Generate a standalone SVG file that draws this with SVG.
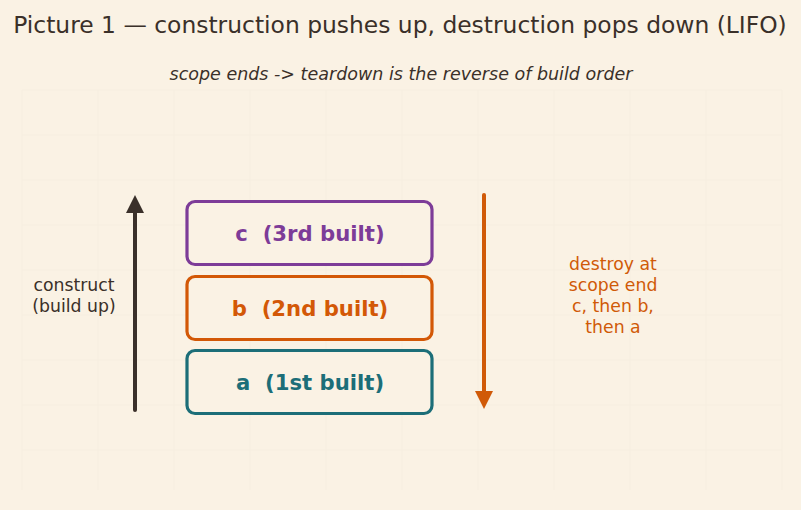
<svg xmlns="http://www.w3.org/2000/svg" width="801" height="510" viewBox="0 0 801 510">
<defs>
<style>
text{font-family:"DejaVu Sans","Liberation Sans",sans-serif;text-anchor:middle;white-space:pre}
.title{font-size:23.4px;fill:#3a3029}
.sub{font-size:17.5px;font-style:italic;fill:#3a3029}
.box{fill:#faf2e4;stroke-width:3.2}
.lbl{font-size:21.2px;font-weight:bold}
.side{font-size:17.3px}
.grid{stroke:#f4ecde;stroke-width:1;fill:none}
</style>
<marker id="ahDark" viewBox="0 0 10 10" refX="5" refY="5" markerWidth="4.5" markerHeight="4.5" orient="auto"><path d="M0,0L10,5L0,10z" fill="#3a302a"/></marker>
<marker id="ahOrange" viewBox="0 0 10 10" refX="5" refY="5" markerWidth="4.5" markerHeight="4.5" orient="auto"><path d="M0,0L10,5L0,10z" fill="#d05a08"/></marker>
</defs>
<rect width="801" height="510" fill="#faf2e4"/>
<g class="grid" opacity="0.5">
<path d="M22,90V490M98,90V490M174,90V490M250,90V490M326,90V490M402,90V490M478,90V490M554,90V490M630,90V490M706,90V490M782,90V490"/>
<path d="M22,90H782M22,135H782M22,180H782M22,225H782M22,270H782M22,315H782M22,360H782M22,405H782M22,450H782"/>
</g>
<text class="title" x="400" y="33">Picture 1 — construction pushes up, destruction pops down (LIFO)</text>
<text class="sub" x="401" y="80">scope ends -&gt; teardown is the reverse of build order</text>
<g id="connectors">
<line x1="135" y1="410" x2="135" y2="204" stroke="#3a302a" stroke-width="4" stroke-linecap="round" marker-end="url(#ahDark)"/>
<line x1="484" y1="195" x2="484" y2="400" stroke="#d05a08" stroke-width="4" stroke-linecap="round" marker-end="url(#ahOrange)"/>
</g>
<g id="node-c">
<rect class="box" x="187" y="201.5" width="245" height="63" rx="8" stroke="#7d3c98"/>
<text class="lbl" x="310" y="240.5" fill="#7d3c98">c  (3rd built)</text>
</g>
<g id="node-b">
<rect class="box" x="187" y="276.5" width="245" height="63" rx="8" stroke="#d35806"/>
<text class="lbl" x="310" y="315.5" fill="#d35806">b  (2nd built)</text>
</g>
<g id="node-a">
<rect class="box" x="187" y="350.5" width="245" height="63" rx="8" stroke="#1c6e78"/>
<text class="lbl" x="310" y="389.5" fill="#1c6e78">a  (1st built)</text>
</g>
<g id="label-construct">
<text class="side" x="74" y="291" fill="#3a3029">construct</text>
<text class="side" x="74" y="312" fill="#3a3029">(build up)</text>
</g>
<g id="label-destroy">
<text class="side" x="613" y="270" fill="#d05a08">destroy at</text>
<text class="side" x="613" y="291" fill="#d05a08">scope end</text>
<text class="side" x="613" y="312" fill="#d05a08">c, then b,</text>
<text class="side" x="613" y="333" fill="#d05a08">then a</text>
</g>
</svg>
